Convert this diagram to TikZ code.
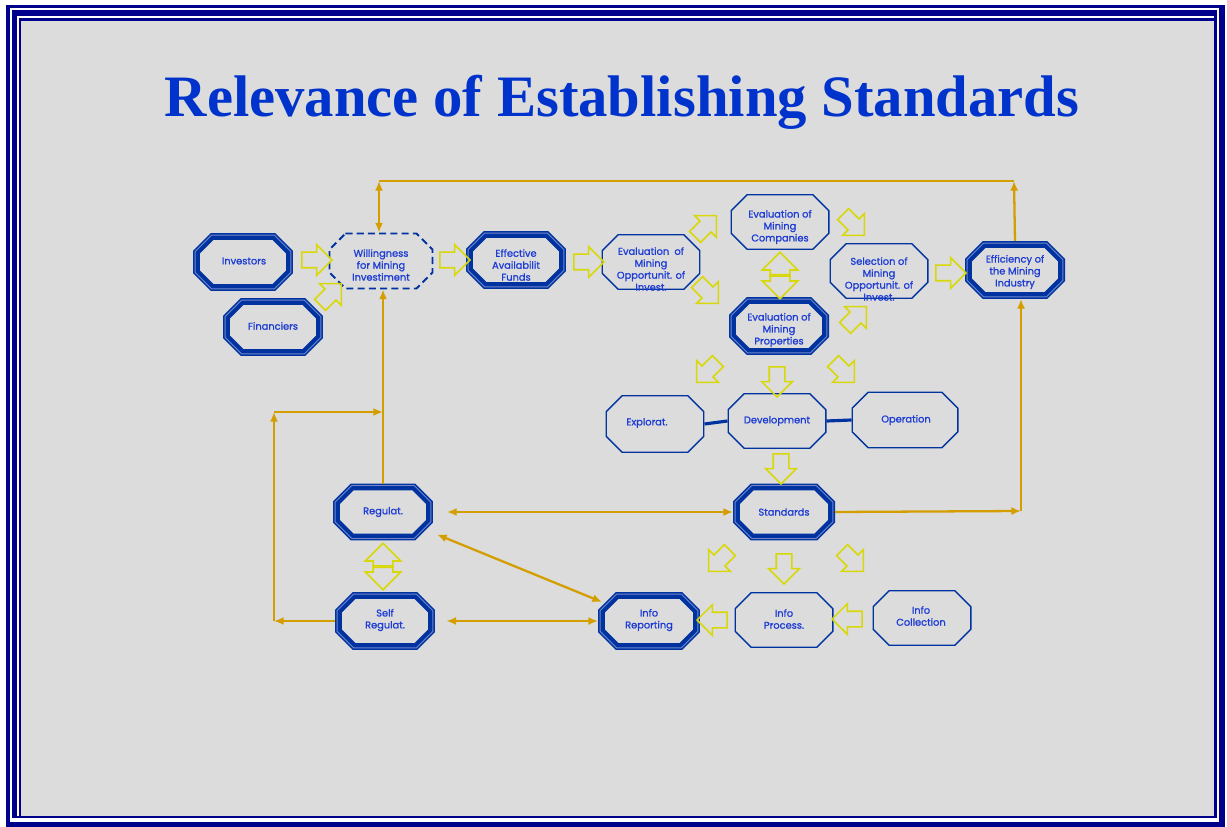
\documentclass[tikz,border=0pt]{standalone}
\usepackage{fontspec}
\newfontfamily\boxfont{Poppins}[FakeBold=1.2]
\newfontfamily\headfont{Liberation Serif}
\usetikzlibrary{shapes.arrows,arrows.meta}
\definecolor{frame}{HTML}{00008C}
\definecolor{boxline}{HTML}{0033A0}
\definecolor{band}{HTML}{6F86CC}
\definecolor{ink}{HTML}{1C3CD4}
\definecolor{gold}{HTML}{D49E00}
\definecolor{lemon}{HTML}{D8D808}
\definecolor{paper}{HTML}{DCDCDC}
\definecolor{heading}{HTML}{0033CC}
% octagon round a box: node name, inset, chamfer
\newcommand\octagon[3]{([xshift=#2+#3,yshift=-#2]#1.north west) -- ([xshift=-#2-#3,yshift=-#2]#1.north east) -- ([xshift=-#2,yshift=-#2-#3]#1.north east) -- ([xshift=-#2,yshift=#2+#3]#1.south east) -- ([xshift=-#2-#3,yshift=#2]#1.south east) -- ([xshift=#2+#3,yshift=#2]#1.south west) -- ([xshift=#2,yshift=#2+#3]#1.south west) -- ([xshift=#2,yshift=-#2-#3]#1.north west) -- cycle}

\begin{document}
\begin{tikzpicture}[x=0.02cm,y=-0.02cm,
  box/.style={rectangle, inner sep=0pt, outer sep=0pt, minimum width=2cm, minimum height=1.16cm},
  tbox/.style={box, minimum width=1.98cm, minimum height=1.12cm},
  boldline/.style={draw=boxline, fill=paper, line width=2.3pt, preaction={draw=boxline, line width=5.4pt}, preaction={draw=band, line width=3.5pt}},
  thinline/.style={draw=boxline, line width=0.8pt},
  dashline/.style={draw=boxline, line width=1.1pt, dash pattern=on 4pt off 2.4pt},
  txt/.style={text=ink, font=\boxfont\fontsize{5.6}{6.8}\selectfont, align=center, inner sep=0pt},
  yarr/.style={single arrow, draw=lemon, line width=0.9pt, inner xsep=0pt, inner ysep=0.14cm, minimum height=0.6cm, single arrow head extend=0.15cm, single arrow tip angle=90},
  ydbl/.style={yarr, inner ysep=0.18cm, minimum height=0.48cm, single arrow head extend=0.16cm, anchor=tail},
  conn/.style={draw=gold, line width=1.3pt, >={Latex[length=5.5pt,width=4.6pt]}},
  bar/.style={draw=boxline, line width=1.8pt}]
\useasboundingbox (0,0) rectangle (1227,827);

% page frame
\fill[white] (0,0) rectangle (1227,827);
\fill[frame] (6,5) rectangle (1225,827);
\fill[white] (10,8) rectangle (1219,822);
\fill[frame] (12,10) rectangle (1217,818);
\fill[white] (17,16) rectangle (1214,816);
\fill[frame] (19,18) rectangle (1214,816);
\fill[paper] (21,21) rectangle (1214,816);

\node[anchor=base, text=heading, font=\headfont\bfseries\fontsize{33.4}{40}\selectfont] (title) at (622,117) {Relevance of Establishing Standards};

\node[box] (inv) at (243,262) {};
\node[box] (fin) at (273,327) {};
\node[box, minimum width=2.1cm, minimum height=1.14cm] (will) at (381,261) {};
\node[box] (funds) at (516,260) {};
\node[tbox] (opp) at (651,262) {};
\node[tbox] (comp) at (780,222) {};
\node[box] (prop) at (779,326) {};
\node[tbox] (sel) at (879,271) {};
\node[box] (effic) at (1015,270) {};
\node[tbox, minimum height=1.16cm] (exp) at (655,424) {};
\node[tbox] (dev) at (777,421) {};
\node[tbox, minimum width=2.14cm, minimum height=1.14cm] (ope) at (905,420) {};
\node[box, minimum height=1.14cm] (reg) at (383,512) {};
\node[box] (sreg) at (385,621) {};
\node[box, minimum width=2.04cm, minimum height=1.14cm] (std) at (784,512) {};
\node[box, minimum width=2.04cm] (rep) at (649,621) {};
\node[tbox] (proc) at (784,620) {};
\node[tbox] (coll) at (922,618) {};

\path[boldline] \octagon{inv}{2.7pt}{0.3cm};
\path[boldline] \octagon{fin}{2.7pt}{0.3cm};
\path[dashline] \octagon{will}{0.55pt}{0.32cm};
\path[boldline] \octagon{funds}{2.7pt}{0.3cm};
\path[thinline] \octagon{opp}{0.4pt}{0.32cm};
\path[thinline] \octagon{comp}{0.4pt}{0.32cm};
\path[boldline] \octagon{prop}{2.7pt}{0.3cm};
\path[thinline] \octagon{sel}{0.4pt}{0.32cm};
\path[boldline] \octagon{effic}{2.7pt}{0.3cm};
\path[thinline] \octagon{exp}{0.4pt}{0.32cm};
\path[thinline] \octagon{dev}{0.4pt}{0.32cm};
\path[thinline] \octagon{ope}{0.4pt}{0.32cm};
\path[boldline] \octagon{reg}{2.7pt}{0.3cm};
\path[boldline] \octagon{sreg}{2.7pt}{0.3cm};
\path[boldline] \octagon{std}{2.7pt}{0.3cm};
\path[boldline] \octagon{rep}{2.7pt}{0.3cm};
\path[thinline] \octagon{proc}{0.4pt}{0.32cm};
\path[thinline] \octagon{coll}{0.4pt}{0.32cm};

\node[txt] (inv-t) at (244,261) {Investors};
\node[txt] (fin-t) at (273,326) {Financiers};
\node[txt] (will-t) at (381,265) {Willingness\\for Mining\\Investiment};
\node[txt] (funds-t) at (516,265) {Effective\\Availabilit\\Funds};
\node[txt] (opp-t) at (651,269) {Evaluation \ of\\Mining\\Opportunit. of\\Invest.};
\node[txt] (comp-t) at (780,227) {Evaluation of\\Mining\\Companies};
\node[txt] (prop-t) at (779,330) {Evaluation of\\Mining\\Properties};
\node[txt] (sel-t) at (879,279) {Selection of\\Mining\\Opportunit. of\\Invest.};
\node[txt] (effic-t) at (1015,272) {Efficiency of\\the Mining\\Industry};
\node[txt] (exp-t) at (647,423) {Explorat.};
\node[txt] (dev-t) at (777,421) {Development};
\node[txt] (ope-t) at (906,420) {Operation};
\node[txt] (reg-t) at (383,512) {Regulat.};
\node[txt] (sreg-t) at (385,620) {Self\\Regulat.};
\node[txt] (std-t) at (784,512) {Standards};
\node[txt] (rep-t) at (649,620) {Info\\Reporting};
\node[txt] (proc-t) at (784,619) {Info\\Process.};
\node[txt] (coll-t) at (921,616) {Info\\Collection};

\node[yarr] (a1) at (313,260) {};
\node[yarr, rotate=45] (a2) at (328,297) {};
\node[yarr] (a3) at (451,260) {};
\node[yarr] (a4) at (585,262) {};
\node[yarr, rotate=45] (a5) at (703,229) {};
\node[yarr, rotate=-45] (a6) at (705,290) {};
\node[yarr, rotate=-45] (a7) at (851,222) {};
\node[yarr, rotate=45] (a8) at (853,320) {};
\node[yarr] (a9) at (947,273) {};
\node[yarr, rotate=225] (a10) at (710,369) {};
\node[yarr, rotate=-90] (a11) at (777,378) {};
\node[yarr, rotate=-45] (a12) at (841,369) {};
\node[yarr, rotate=-90] (a13) at (781,465) {};
\node[yarr, rotate=225] (a14) at (722,558) {};
\node[yarr, rotate=-90] (a15) at (784,565) {};
\node[yarr, rotate=-45] (a16) at (850,558) {};
\node[yarr, rotate=180] (a17) at (716,620) {};
\node[yarr, rotate=180] (a18) at (851,619) {};
\node[ydbl, rotate=90] (b1) at (780,277) {};
\node[ydbl, rotate=-90] (b2) at (780,274) {};
\node[ydbl, rotate=90] (b3) at (383,568) {};
\node[ydbl, rotate=-90] (b4) at (383,565) {};

\path[bar] (exp.east) -- (dev.west);
\path[bar] (dev.east) -- (ope.west);

\coordinate (tl) at (379,181);
\coordinate (tr) at (1014,181);
\coordinate (lb) at (274,621);
\coordinate (lt) at (274,412);
\coordinate (rb) at (1021,511);

\path[conn,->] (effic.north) -- (tr);
\path[conn] (tl) -- (tr);
\path[conn,<->] (tl) -- (tl |- will.north);
\path[conn,->] (reg.north) -- (reg.north |- will.south);
\path[conn,->] (sreg.west) -- (lb);
\path[conn,->] (lb) -- (lt);
\path[conn,->] (lt) -- (lt -| reg.north);
\path[conn,<->,shorten <=8pt] (reg.east) -- (std.west);
\path[conn,<->] ([xshift=0.08cm,yshift=0.12cm]reg.south east) -- ([xshift=0.08cm,yshift=-0.2cm]rep.north west);
\path[conn,<->,shorten <=6.5pt] (sreg.east) -- (rep.west);
\path[conn,->] (std.east) -- (rb);
\path[conn,->] (rb) -- (rb |- effic.south);
\end{tikzpicture}
\end{document}
